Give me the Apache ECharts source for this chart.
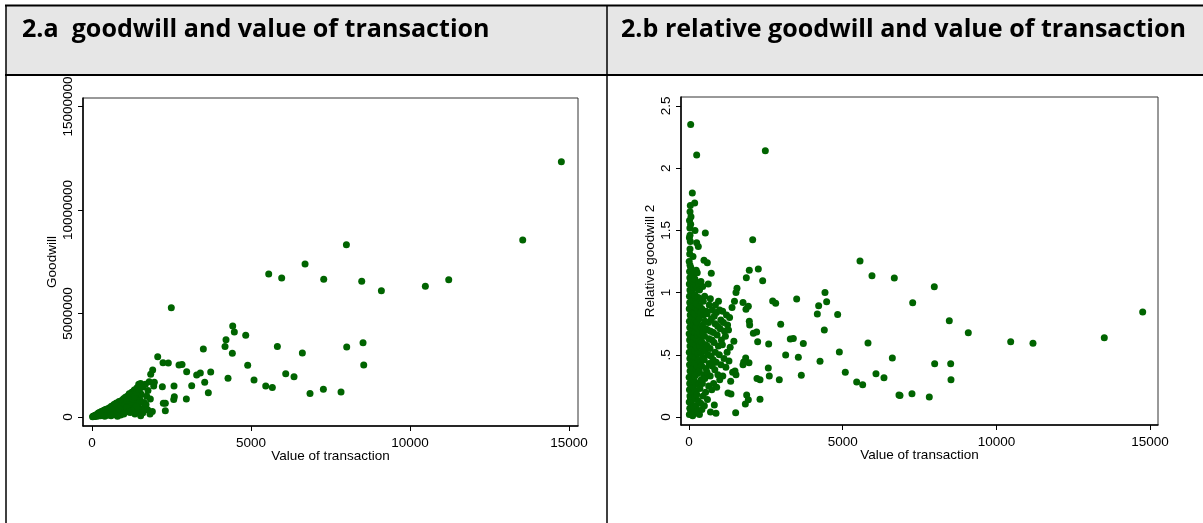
<!DOCTYPE html>
<html><head><meta charset="utf-8">
<script src="https://cdn.jsdelivr.net/npm/echarts@6/dist/echarts.min.js"></script>
<style>html,body{margin:0;padding:0;background:#fff}#c{width:1203px;height:523px}</style>
</head><body><div id="c"></div>
<script>
// ---- texts ----
const panelTitles = ['2.a  goodwill and value of transaction', '2.b relative goodwill and value of transaction'];
const xAxisName = 'Value of transaction';
const yAxisNames = ['Goodwill', 'Relative goodwill 2'];
// ---- ticks ----
const xTicks = [0, 5000, 10000, 15000];
const xTickLabels = ['0', '5000', '10000', '15000'];
const aYTicks = [0, 5000000, 10000000, 15000000];
const aYTickLabels = ['0', '5000000', '10000000', '15000000'];
const bYTicks = [0, 0.5, 1, 1.5, 2, 2.5];
const bYTickLabels = ['0', '.5', '1', '1.5', '2', '2.5'];

// ---- panel a: [value of transaction, goodwill] ----
const panelAOutliers = [
 [14760,12330000],[13545,8550000],[8000,8320000],[6700,7390000],[7287,6660000],[8482,6560000],
 [11218,6630000],[10483,6310000],[9100,6100000],[5557,6910000],[5965,6710000],[2494,5280000],
 [4425,4400000],[4476,4110000],[4834,3950000],[4214,3730000],[4183,3410000],[4413,3080000],
 [5829,3410000],[6615,3090000],[3501,3290000],[8010,3380000],[8523,3590000],[8545,2510000],
 [2066,2910000],[2233,2620000],[2400,2610000],[2736,2510000],[2831,2530000],[2977,2190000],
 [3292,2030000],[3407,2130000],[3733,2170000],[3544,1680000],[3658,1170000],[4277,1870000],
 [4896,2500000],[5095,1790000],[5463,1500000],[5671,1430000],[6092,2090000],[6353,1950000],
 [6856,1130000],[7276,1340000],[7831,1210000],[3135,1510000],[2967,870000],[2579,1500000],
 [2589,980000],[2570,840000],[2306,660000],[2306,300000],[2212,1460000],[1908,2270000],
 [1846,2060000],[1960,1680000],[1940,1500000],[1834,870000],[1897,260000],[1824,140000],
 [1531,60000],[2243,660000]
];
const panelACluster = [
 [20,10000],[40,30000],[60,50000],[80,20000],[100,90000],[120,60000],[150,120000],[170,40000],
 [190,180000],[210,100000],[230,220000],[250,150000],[270,60000],[290,260000],[310,200000],
 [330,110000],[350,300000],[370,240000],[390,150000],[410,350000],[430,280000],[450,190000],
 [470,80000],[490,400000],[510,320000],[530,230000],[550,450000],[570,130000],[590,380000],
 [610,520000],[630,280000],[650,170000],[670,470000],[690,600000],[710,350000],[730,230000],
 [750,560000],[770,680000],[790,420000],[810,300000],[830,620000],[850,750000],[870,500000],
 [890,190000],[910,700000],[930,800000],[950,380000],[970,580000],[990,880000],[1010,450000],
 [1030,760000],[1050,950000],[1070,290000],[1090,650000],[1110,1000000],[1130,840000],
 [1150,520000],[1170,1120000],[1190,700000],[1210,380000],[1230,950000],[1250,1200000],
 [1270,600000],[1290,1060000],[1310,820000],[1330,1300000],[1350,460000],[1370,1150000],
 [1390,700000],[1410,1400000],[1430,980000],[1450,560000],[1470,1580000],[1490,1250000],
 [1510,850000],[1530,1620000],[1550,1100000],[1570,380000],[1600,1450000],[1640,700000],
 [1680,1580000],[1720,1000000],[1760,1280000],[1800,1700000],
 [30,20000],[90,40000],[140,70000],[200,130000],[260,170000],[320,230000],[380,310000],
 [440,360000],[500,260000],[560,330000],[620,420000],[680,480000],[740,640000],[800,550000],
 [860,400000],[920,520000],[980,690000],[1040,600000],[1100,800000],[1160,900000],
 [1220,1050000],[1280,880000],[1340,980000],[1400,1180000],[1460,1350000],[1520,1480000],
 [700,120000],[600,60000],[900,100000],[1000,150000],[1200,220000],[800,30000],[400,40000],
 [1100,450000],[1300,350000],
 [1350,150000],[1450,300000],[1600,200000],[1650,450000],[1700,600000],[1750,350000],
 [1500,700000],[1400,500000],[1250,300000],[1150,250000]
];

// ---- panel b: [value of transaction, relative goodwill 2] ----
const panelBOutliers = [
 [55,2.35],[250,2.106],[2483,2.14],[108,1.80],[185,1.72],[43,1.70],[33,1.65],[65,1.61],[55,1.55],
 [195,1.50],[531,1.48],[33,1.46],[43,1.41],[250,1.40],[303,1.37],[33,1.35],[130,1.29],[2072,1.425],
 [488,1.26],[596,1.24],[33,1.22],[725,1.155],[1962,1.18],[2255,1.19],[1865,1.12],[5563,1.254],
 [5953,1.136],[6679,1.117],[4424,1.0],[4218,0.895],[4478,0.927],[4175,0.828],[4836,0.825],
 [4402,0.70],[3503,0.948],[2722,0.932],[2820,0.914],[2983,0.745],[3719,0.59],[3394,0.632],
 [3296,0.627],[2592,0.587],[3145,0.498],[3557,0.48],[4262,0.448],[4891,0.522],[5823,0.595],
 [6615,0.474],[5085,0.359],[6083,0.348],[6343,0.316],[5455,0.281],[5650,0.26],[6831,0.177],
 [3654,0.335],[2938,0.30],[2580,0.394],[2612,0.33],[2310,0.142],[2212,0.31],[2310,0.30],
 [2234,0.605],[2093,0.673],[2201,0.683],[1974,0.74],[1962,0.77],[2397,1.096],[1561,1.034],
 [1529,1.0],[1757,0.92],[1854,0.866],[1930,0.89],[1844,0.474],[1952,0.437],[1779,0.442],
 [1757,0.42],[1876,0.177],[1930,0.138],[1833,0.104],[1518,0.035],[1529,0.34],[1496,0.37],
 [1356,0.287],[1269,0.193],[1366,0.185],[878,0.03],[824,0.096],
 [14759,0.844],[13510,0.638],[10465,0.605],[11190,0.592],[9086,0.678],[8468,0.774],[7980,1.047],
 [7277,0.919],[7992,0.428],[8513,0.428],[8523,0.30],[7254,0.187],[6864,0.174],[7817,0.161]
];
const panelBCluster = [
 [12,0.02],[25,0.07],[8,0.12],[30,0.17],[15,0.22],[22,0.27],[5,0.32],[35,0.37],[18,0.42],[28,0.47],
 [10,0.52],[32,0.57],[20,0.62],[6,0.67],[26,0.72],[14,0.77],[38,0.82],[9,0.87],[24,0.92],[16,0.97],
 [30,1.02],[11,1.07],[27,1.12],[19,1.17],[7,1.25],[23,1.31],[13,1.44],[29,1.52],[17,1.58],
 [60,0.04],[85,0.10],[55,0.15],[95,0.20],[70,0.25],[50,0.31],[90,0.36],[65,0.40],[80,0.45],[58,0.50],
 [98,0.55],[72,0.60],[52,0.65],[88,0.70],[63,0.75],[78,0.80],[94,0.85],[57,0.90],[83,0.95],[68,1.00],
 [92,1.05],[54,1.10],[76,1.15],[61,1.20],
 [120,0.01],[150,0.08],[115,0.14],[165,0.19],[135,0.24],[110,0.29],[158,0.34],[128,0.39],[145,0.44],
 [170,0.49],[118,0.54],[140,0.59],[162,0.64],[125,0.69],[152,0.74],[112,0.79],[168,0.84],[133,0.89],
 [147,0.94],[122,0.99],[160,1.04],[138,1.09],[116,1.13],
 [200,0.03],[225,0.09],[185,0.16],[235,0.21],[210,0.28],[190,0.33],[240,0.38],[205,0.43],[230,0.48],
 [182,0.53],[218,0.58],[238,0.63],[195,0.68],[228,0.73],[208,0.78],[188,0.83],[232,0.88],[215,0.93],
 [198,0.98],[222,1.06],[192,1.11],[236,1.18],
 [270,0.05],[300,0.13],[255,0.18],[315,0.26],[280,0.35],[262,0.41],[305,0.46],[290,0.51],[258,0.56],
 [318,0.61],[275,0.66],[295,0.71],[265,0.76],[310,0.81],[285,0.86],[252,0.91],[302,0.96],[278,1.03],
 [312,1.08],[268,1.16],
 [340,0.02],[380,0.11],[355,0.23],[395,0.30],[335,0.37],[370,0.44],[390,0.52],[345,0.57],[375,0.62],
 [360,0.67],[398,0.72],[338,0.79],[385,0.84],[352,0.89],[372,0.95],[342,1.02],[388,1.09],
 [420,0.06],[460,0.17],[435,0.27],[475,0.34],[415,0.41],[450,0.48],[470,0.55],[428,0.60],[455,0.68],
 [440,0.74],[478,0.82],[418,0.87],[465,0.93],[445,1.05],
 [500,0.09],[540,0.20],[515,0.31],[555,0.39],[495,0.46],[530,0.53],[550,0.58],[505,0.65],[545,0.71],
 [520,0.77],[560,0.85],[510,0.97],
 [600,0.14],[640,0.25],[585,0.36],[655,0.43],[620,0.50],[595,0.57],[648,0.63],[610,0.70],[635,0.76],
 [590,0.83],[660,0.90],[625,1.07],
 [700,0.04],[740,0.22],[690,0.33],[755,0.41],[715,0.49],[685,0.55],[748,0.62],[705,0.69],[730,0.79],
 [760,0.86],[695,0.95],
 [800,0.27],[840,0.38],[785,0.46],[855,0.52],[815,0.60],[795,0.68],[848,0.75],[820,0.81],[860,0.90],
 [900,0.24],[940,0.34],[885,0.44],[955,0.57],[915,0.66],[935,0.73],[895,0.84],[960,0.93],
 [1000,0.30],[1040,0.42],[985,0.50],[1055,0.62],[1015,0.71],[1035,0.78],[995,0.86],
 [1100,0.33],[1140,0.47],[1085,0.58],[1155,0.69],[1120,0.76],[1095,0.85],
 [1200,0.40],[1240,0.52],[1185,0.65],[1255,0.74],[1220,0.82],
 [1300,0.45],[1340,0.56],[1285,0.70],[1320,0.80],
 [1420,0.36],[1460,0.61],[1400,0.88],[1480,0.93]
];

// ---- styling ----
const DOT = '#006400';
const FONT = 'Liberation Sans, Arial, sans-serif';
const TFONT = 13.5;
const HEAD_FONT = 'Open Sans';

// fit header font size so the first title spans the same width as in the reference
const mctx = document.createElement('canvas').getContext('2d');
mctx.font = 'bold 100px "' + HEAD_FONT + '"';
const headSize = Math.round(100 * 468 / mctx.measureText(panelTitles[0]).width * 10) / 10;

function lookup(ticks, labels) {
  return v => { for (let i = 0; i < ticks.length; i++) if (Math.abs(ticks[i] - v) < 1e-9 * Math.max(1, Math.abs(v))) return labels[i]; return ''; };
}
function xAxisCfg(gi, min, max) {
  return {
    type: 'value', gridIndex: gi, min: min, max: max,
    name: xAxisName, nameLocation: 'middle', nameGap: 23, nameMoveOverlap: false,
    nameTextStyle: { fontFamily: FONT, fontSize: TFONT, color: '#000' },
    axisLine: { show: true, onZero: false, lineStyle: { color: '#000', width: 1.5 } },
    axisTick: { show: true, length: 5, customValues: xTicks, lineStyle: { color: '#000', width: 1 } },
    axisLabel: { customValues: xTicks, margin: 10, fontFamily: FONT, fontSize: TFONT, color: '#000',
                 formatter: lookup(xTicks, xTickLabels) },
    splitLine: { show: false }
  };
}
function yAxisCfg(gi, min, max, ticks, labels, name) {
  return {
    type: 'value', gridIndex: gi, min: min, max: max,
    name: name, nameLocation: 'middle', nameGap: 24, nameRotate: 90, nameMoveOverlap: false,
    nameTextStyle: { fontFamily: FONT, fontSize: TFONT, color: '#000' },
    axisLine: { show: true, onZero: false, lineStyle: { color: '#000', width: 1.5 } },
    axisTick: { show: true, length: 5, customValues: ticks, lineStyle: { color: '#000', width: 1 } },
    axisLabel: { customValues: ticks, rotate: 90, margin: 8, fontFamily: FONT, fontSize: TFONT, color: '#000',
                 formatter: lookup(ticks, labels) },
    splitLine: { show: false }
  };
}

const chart = echarts.init(document.getElementById('c'), null, { renderer: 'canvas' });
chart.setOption({
  animation: false,
  backgroundColor: '#fff',
  grid: [
    { left: 83, top: 98, width: 495, height: 328, show: true, borderColor: '#333', borderWidth: 1, backgroundColor: 'transparent' },
    { left: 681, top: 97, width: 477, height: 328, show: true, borderColor: '#333', borderWidth: 1, backgroundColor: 'transparent' }
  ],
  xAxis: [ xAxisCfg(0, -283, 15283), xAxisCfg(1, -260, 15257) ],
  yAxis: [
    yAxisCfg(0, -435000, 15410000, aYTicks, aYTickLabels, yAxisNames[0]),
    yAxisCfg(1, -0.064, 2.572, bYTicks, bYTickLabels, yAxisNames[1])
  ],
  series: [
    { type: 'scatter', xAxisIndex: 0, yAxisIndex: 0, data: panelACluster.concat(panelAOutliers),
      symbol: 'circle', symbolSize: 7, itemStyle: { color: DOT, opacity: 1 } },
    { type: 'scatter', xAxisIndex: 1, yAxisIndex: 1, data: panelBCluster.concat(panelBOutliers),
      symbol: 'circle', symbolSize: 7, itemStyle: { color: DOT, opacity: 1 } }
  ],
  graphic: [
    { type: 'rect', shape: { x: 6, y: 5, width: 1197, height: 70 }, style: { fill: '#e6e6e6' }, silent: true, z: -1 },
    { type: 'line', shape: { x1: 5, y1: 5.5, x2: 1203, y2: 5.5 }, style: { stroke: '#000', lineWidth: 2 }, silent: true },
    { type: 'line', shape: { x1: 5, y1: 75, x2: 1203, y2: 75 }, style: { stroke: '#000', lineWidth: 2 }, silent: true },
    { type: 'line', shape: { x1: 6, y1: 5, x2: 6, y2: 523 }, style: { stroke: '#000', lineWidth: 1.5 }, silent: true },
    { type: 'line', shape: { x1: 607, y1: 5, x2: 607, y2: 523 }, style: { stroke: '#000', lineWidth: 1.5 }, silent: true },
    { type: 'text', x: 22, y: 30, style: { text: panelTitles[0], fontFamily: HEAD_FONT, fontWeight: 'bold', fontSize: headSize, fill: '#000', verticalAlign: 'middle' }, silent: true },
    { type: 'text', x: 621, y: 30, style: { text: panelTitles[1], fontFamily: HEAD_FONT, fontWeight: 'bold', fontSize: headSize, fill: '#000', verticalAlign: 'middle' }, silent: true }
  ]
});
</script>
</body></html>
